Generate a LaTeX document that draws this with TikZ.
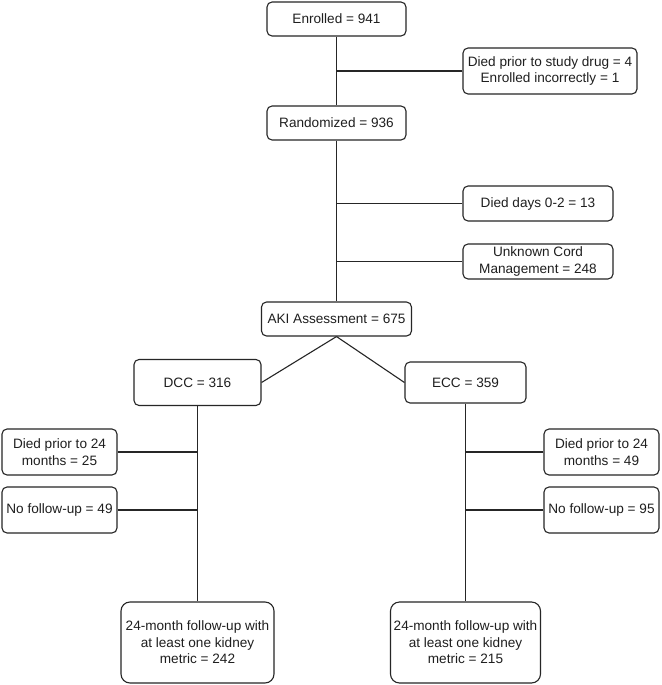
\documentclass[tikz,border=0pt]{standalone}
\usepackage{fontspec}
\setmainfont{Liberation Sans}
\begin{document}
\begin{tikzpicture}[x=1pt,y=-1pt,
  box/.style={draw=black!85, line width=1.1pt, rounded corners=5pt, align=center,
    inner sep=1pt, font=\fontsize{13.6}{16.6}\selectfont, text=black!88, fill=white},
  bigbox/.style={box, rounded corners=9pt},
  conn/.style={draw=black!85, line width=1.1pt}]
\useasboundingbox (0,0) rectangle (661,685);
\fill[white] (0,0) rectangle (661,685);

\node[box, minimum width=139pt, minimum height=34pt] (en) at (336.5,19) {Enrolled = 941};
\node[box, minimum width=174pt, minimum height=46pt] (dp) at (550,71) {Died prior to study drug = 4\\Enrolled incorrectly = 1};
\node[box, minimum width=139pt, minimum height=34pt] (rd) at (336.5,123) {Randomized = 936};
\node[box, minimum width=150pt, minimum height=35pt] (dd) at (538,203.5) {Died days 0-2 = 13};
\node[box, minimum width=150pt, minimum height=35pt] (uc) at (538,261.5) {Unknown Cord\\Management = 248};
\node[box, minimum width=150pt, minimum height=34pt] (aki) at (336.5,319) {AKI Assessment = 675};
\node[box, minimum width=127pt, minimum height=46pt] (dcc) at (197.5,382.5) {DCC = 316};
\node[box, minimum width=121pt, minimum height=41pt] (ecc) at (465.5,382.5) {ECC = 359};
\node[box, minimum width=115pt, minimum height=46pt] (ld) at (59.5,452) {Died prior to 24\\months = 25};
\node[box, minimum width=115pt, minimum height=46pt] (ln) at (59.5,510) {No follow-up = 49};
\node[box, minimum width=115pt, minimum height=46pt] (rdd) at (601.5,452) {Died prior to 24\\months = 49};
\node[box, minimum width=115pt, minimum height=46pt] (rn) at (601.5,510) {No follow-up = 95};
\node[bigbox, minimum width=153pt, minimum height=81pt] (lb) at (197.5,642.5) {24-month follow-up with\\at least one kidney\\metric = 242};
\node[bigbox, minimum width=150pt, minimum height=81pt] (rb) at (465.5,642.5) {24-month follow-up with\\at least one kidney\\metric = 215};

\draw[conn] (en.south) -- (rd.north);
\draw[conn] (dp.west) -- (dp.west -| en.south);
\draw[conn] (rd.south) -- (aki.north);
\draw[conn] (dd.west) -- (dd.west -| rd.south);
\draw[conn] (uc.west) -- (uc.west -| rd.south);
\draw[conn] (aki.south) -- (dcc.east);
\draw[conn] (aki.south) -- (ecc.west);
\draw[conn] (dcc.south) -- (lb.north);
\draw[conn] (ld.east) -- (ld.east -| dcc.south);
\draw[conn] (ln.east) -- (ln.east -| dcc.south);
\draw[conn] (ecc.south) -- (rb.north);
\draw[conn] (rdd.west) -- (rdd.west -| ecc.south);
\draw[conn] (rn.west) -- (rn.west -| ecc.south);
\end{tikzpicture}
\end{document}
